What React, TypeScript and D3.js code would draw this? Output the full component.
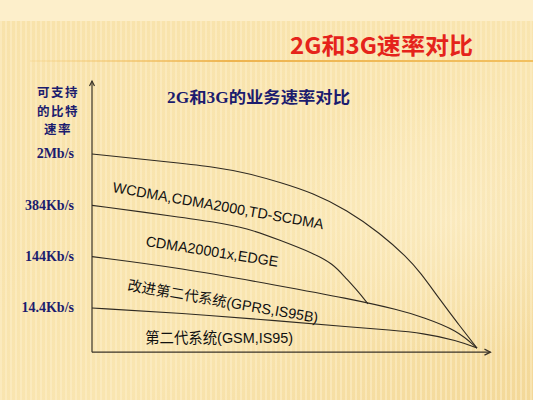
import * as d3 from "d3";

// levels on the y axis (not a true rate scale, labels are evenly spaced)
const tickLabels = ["14.4Kb/s", "144Kb/s", "384Kb/s", "2Mb/s"];
const tickLevels = [1, 2, 3, 4];

// curves as [progress, level]
const curve3G: [number, number][] = [
  [0, 4.0], [22.9, 3.82], [31.4, 3.75], [40.3, 3.63], [48.8, 3.45],
  [57.4, 3.24], [66.2, 2.91], [74.8, 2.46], [81.8, 1.99], [85.2, 1.7],
  [90.4, 1.16], [95.1, 0.69], [100, 0.22],
];
const curveCdma1x: [number, number][] = [
  [0, 3.0], [22.9, 2.77], [31.4, 2.68], [40.3, 2.56], [48.8, 2.32],
  [57.4, 2.07], [62.6, 1.86], [65.7, 1.6], [68.8, 1.35], [71.7, 1.08],
];
const curveGprs: [number, number][] = [
  [0, 2.0], [22.9, 1.78], [48.8, 1.43], [66.2, 1.19], [80, 0.96],
  [86, 0.82], [94.8, 0.57], [100, 0.22],
];
const curveGsm: [number, number][] = [
  [0, 1.0], [22.9, 0.9], [48.8, 0.75], [67, 0.63], [77.4, 0.57],
  [86, 0.51], [94.8, 0.37], [100, 0.22],
];
const curves = [curve3G, curveCdma1x, curveGprs, curveGsm];

const bandNames = [
  "WCDMA,CDMA2000,TD-SCDMA",
  "CDMA20001x,EDGE",
  "改进第二代系统(GPRS,IS95B)",
  "第二代系统(GSM,IS95)",
];
// label anchor in data units, rotation and fitted width
const bandX = [5.2, 13.8, 9.1, 13.8];
const bandLevel = [3.26, 2.21, 1.35, 0.32];
const bandAngle = [10, 9, 9.8, 0];
const bandWidth = [214, 134, 193, 148];

const title = "2G和3G速率对比";
const subtitle = "2G和3G的业务速率对比";
const yTitle = ["可支持", "的比特", "速率"];

const W = 533;
const H = 400;
const navy = "#1c1c6e";

export default function App() {
  const x = d3.scaleLinear().domain([0, 100]).range([92, 477]);
  const y = d3.scaleLinear().domain([1, 4]).range([308, 154]);
  const baseLevel = 0.14;
  const topLevel = 5.42;
  const xEnd = 103.5;

  // B-spline smooths out the small reading errors between points
  const line = d3
    .line<[number, number]>()
    .x((d) => x(d[0]))
    .y((d) => y(d[1]))
    .curve(d3.curveBasis);

  const stripes = d3.range(0, W, 5);

  return (
    <svg
      width={W}
      height={H}
      viewBox={`0 0 ${W} ${H}`}
      style={{ position: "fixed", left: 0, top: 0 }}
    >
      <defs>
        <linearGradient id="rule" x1="0" x2="1" y1="0" y2="0">
          <stop offset="0" stopColor="#f3c870" stopOpacity="0.2" />
          <stop offset="0.4" stopColor="#eeb450" />
          <stop offset="1" stopColor="#f2c060" />
        </linearGradient>
        <linearGradient id="bg" x1="0" x2="1" y1="0" y2="1">
          <stop offset="0" stopColor="#f8e2aa" />
          <stop offset="0.6" stopColor="#f9e5b0" />
          <stop offset="1" stopColor="#f3d898" />
        </linearGradient>
        <radialGradient id="glow" cx="0.85" cy="0.55" r="0.35">
          <stop offset="0" stopColor="#fff6dc" stopOpacity="0.4" />
          <stop offset="1" stopColor="#fff6dc" stopOpacity="0" />
        </radialGradient>
      </defs>

      <rect width={W} height={H} fill="url(#bg)" />
      {stripes.map((s) => (
        <rect
          key={s}
          x={s}
          y={20}
          width={2}
          height={H - 20}
          fill="#fdf0cc"
          opacity={0.5}
        />
      ))}
      <rect width={W} height={H} fill="url(#glow)" />
      <rect width={W} height={21} fill="#fdefcb" />

      {/* slide title */}
      <text
        x={473}
        y={54}
        textAnchor="end"
        fontFamily="'Noto Sans CJK SC', sans-serif"
        fontWeight="bold"
        fontSize={23}
        fill="#e5231b"
        textLength={183}
        lengthAdjust="spacingAndGlyphs"
      >
        {title}
      </text>
      <rect x={30} y={60} width={W - 30} height={2} fill="url(#rule)" />

      {/* y axis title */}
      {yTitle.map((t, i) => (
        <text
          key={t}
          x={58}
          y={97 + i * 18.5}
          textAnchor="middle"
          fontFamily="'Noto Sans CJK SC', sans-serif"
          fontWeight="bold"
          fontSize={12.5}
          letterSpacing={1.5}
          fill={navy}
        >
          {t}
        </text>
      ))}

      {/* chart subtitle */}
      <text
        x={167}
        y={103}
        fontFamily="'Liberation Serif', 'Noto Sans CJK SC', serif"
        fontWeight="bold"
        fontSize={16}
        fill={navy}
        textLength={183}
        lengthAdjust="spacingAndGlyphs"
      >
        {subtitle}
      </text>

      {/* axes */}
      <g stroke="#3a3328" strokeWidth={1.2} fill="none">
        <line x1={x(0)} x2={x(0)} y1={y(baseLevel)} y2={y(topLevel)} />
        <path
          d={`M${x(0) - 2.5},${y(topLevel) + 5} L${x(0)},${y(topLevel)} L${x(0) + 2.5},${y(topLevel) + 5}`}
        />
        <line x1={x(0)} x2={x(xEnd)} y1={y(baseLevel)} y2={y(baseLevel)} />
        <path
          d={`M${x(xEnd) - 6},${y(baseLevel) - 3} L${x(xEnd)},${y(baseLevel)} L${x(xEnd) - 6},${y(baseLevel) + 3}`}
        />
      </g>

      {/* tick labels */}
      {tickLabels.map((t, i) => (
        <text
          key={t}
          x={x(0) - 18}
          y={y(tickLevels[i]) + 1}
          dominantBaseline="middle"
          textAnchor="end"
          fontFamily="'Liberation Serif', serif"
          fontWeight="bold"
          fontSize={14}
          fill={navy}
        >
          {t}
        </text>
      ))}

      {/* curves */}
      {curves.map((c, i) => (
        <path
          key={i}
          d={line(c) ?? ""}
          fill="none"
          stroke="#2f2a22"
          strokeWidth={1.1}
        />
      ))}

      {/* band labels */}
      {bandNames.map((t, i) => (
        <text
          key={t}
          transform={`translate(${x(bandX[i])},${y(bandLevel[i])}) rotate(${bandAngle[i]})`}
          fontFamily="'Liberation Sans', 'Noto Sans CJK SC', sans-serif"
          fontSize={14.5}
          fill="#111"
          textLength={bandWidth[i]}
          lengthAdjust="spacingAndGlyphs"
        >
          {t}
        </text>
      ))}
    </svg>
  );
}
